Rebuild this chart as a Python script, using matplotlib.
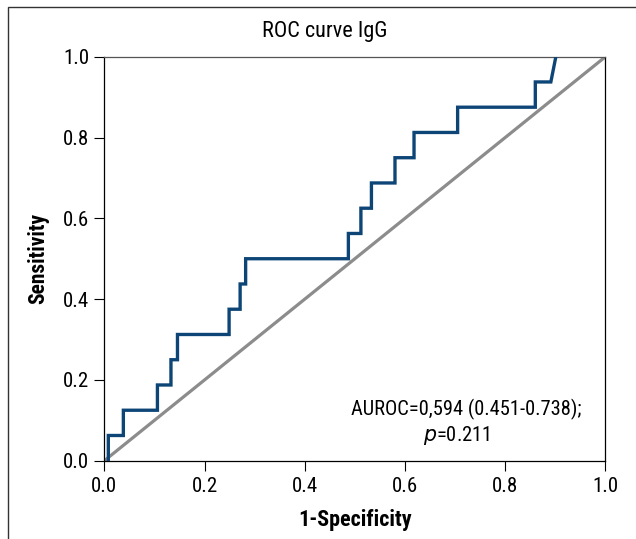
import matplotlib.pyplot as plt
from matplotlib.patches import Rectangle

plt.rcParams['font.family'] = ['Roboto Condensed', 'Archivo Narrow', 'Liberation Sans', 'DejaVu Sans']

# ROC corner points (16 positives -> steps of 1/16)
fpr = [0.008, 0.008, 0.038, 0.038, 0.106, 0.106, 0.133, 0.133, 0.146, 0.146,
       0.249, 0.249, 0.271, 0.271, 0.282, 0.282, 0.487, 0.487, 0.512, 0.512,
       0.533, 0.533, 0.580, 0.580, 0.618, 0.618, 0.705, 0.705, 0.860, 0.860,
       0.891, 0.901]
tpr = [0.0, 0.0625, 0.0625, 0.125, 0.125, 0.1875, 0.1875, 0.25, 0.25, 0.3125,
       0.3125, 0.375, 0.375, 0.4375, 0.4375, 0.5, 0.5, 0.5625, 0.5625, 0.625,
       0.625, 0.6875, 0.6875, 0.75, 0.75, 0.8125, 0.8125, 0.875, 0.875, 0.9375,
       0.9375, 1.0]
ticks = [0.0, 0.2, 0.4, 0.6, 0.8, 1.0]

fig = plt.figure(figsize=(6.36, 5.39), dpi=100)
ax = fig.add_axes([0.164, 0.1452, 0.788, 0.7496])

# frame around the whole figure (cut off on right and bottom)
fig.patches.append(Rectangle((7.5 / 636, -0.1), 1.2, 1 - 6.5 / 539 + 0.1,
                             transform=fig.transFigure, fill=False,
                             edgecolor='#333333', linewidth=1.0))

ax.plot([0, 1], [0, 1], color='#8c8c8c', linewidth=2.3, zorder=2)
ax.plot(fpr, tpr, color='#0d4577', linewidth=2.4, zorder=3,
        solid_joinstyle='miter')

ax.set_xlim(0, 1)
ax.set_ylim(0, 1)
ax.set_xticks(ticks)
ax.set_yticks(ticks)
ax.set_xticklabels([f'{t:.1f}' for t in ticks])
ax.set_yticklabels([f'{t:.1f}' for t in ticks])
ax.tick_params(direction='out', length=7, width=0.8, labelsize=15)
ax.tick_params(axis='x', pad=5)
ax.tick_params(axis='y', pad=4)
for s in ax.spines.values():
    s.set_linewidth(0.9)
ax.spines['top'].set_color('#555555')

# title sits a bit left of the axes centre in the original
ax.set_title('ROC curve IgG', fontsize=16, pad=14, x=0.44)
ax.set_xlabel('1-Specificity', fontsize=15.8, fontweight='bold', labelpad=9)
ax.set_ylabel('Sensitivity', fontsize=15.5, fontweight='bold', labelpad=10)

ax.text(0.723, 0.113, 'AUROC=0,594 (0.451-0.738);', fontsize=14.8,
        ha='center', va='baseline')
ax.text(0.703, 0.049, r'$\it{p}$=0.211', fontsize=14.8,
        ha='center', va='baseline')

fig.savefig('out.png', dpi=100)
